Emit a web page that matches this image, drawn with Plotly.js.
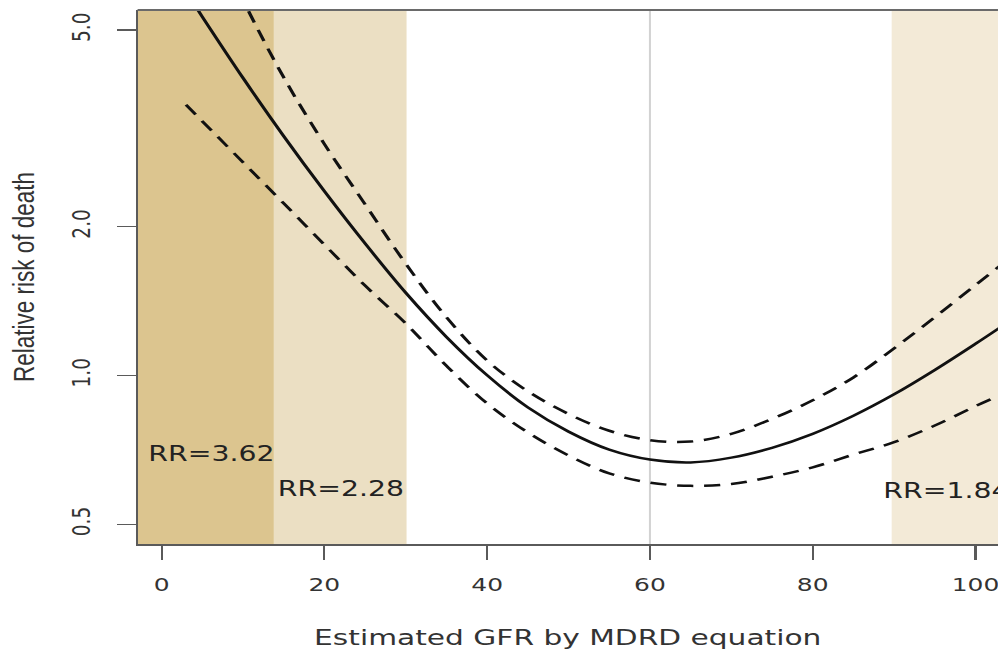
<!DOCTYPE html>
<html>
<head>
<meta charset="utf-8">
<script src="https://cdn.plot.ly/plotly-3.0.1.min.js"></script>
<style>
html, body { margin: 0; padding: 0; background: #ffffff; overflow: hidden; }
#wrap { width: 998px; height: 652px; overflow: hidden; position: relative; }
#chart { width: 770px; height: 652px; transform: scaleX(1.3486); transform-origin: 0 0; }
</style>
</head>
<body>
<div id="wrap"><div id="chart"></div></div>
<script>
// ---- data ----
const gfr     = [3, 5, 10, 15, 20, 25, 30, 35, 40, 45, 50, 55, 60, 65, 70, 75, 80, 85, 90, 95, 100, 103];
const rrFit   = [5.98, 5.32, 4.00, 3.05, 2.36, 1.85, 1.47, 1.197, 1.001, 0.862, 0.770, 0.708, 0.676, 0.667, 0.682, 0.714, 0.762, 0.829, 0.916, 1.026, 1.159, 1.250];
const rrUpper = [10.1, 8.55, 5.75, 4.01, 2.94, 2.22, 1.683, 1.312, 1.072, 0.929, 0.836, 0.773, 0.740, 0.735, 0.762, 0.817, 0.891, 0.991, 1.135, 1.312, 1.524, 1.667];
const rrLower = [3.53, 3.27, 2.70, 2.23, 1.84, 1.52, 1.274, 1.046, 0.878, 0.767, 0.689, 0.634, 0.607, 0.598, 0.603, 0.624, 0.652, 0.692, 0.733, 0.792, 0.867, 0.912];

const bandFrom   = [-10, 13.8, 89.7];
const bandTo     = [13.8, 30.1, 130];
const bandLabels = ['RR=3.62', 'RR=2.28', 'RR=1.84'];
const refGfr     = 60;

const xTickVals = [0, 20, 40, 60, 80, 100];
const yTickVals = [0.5, 1.0, 2.0, 5.0];
const yTickText = ['0.5', '1.0', '2.0', '5.0'];

// ---- styling ----
const bandColors = ['#dcc58f', '#ebdfc3', '#f3ead7'];
const labelPos = [
  {x: -2.0, y: 0.694},
  {x: 14.0, y: 0.589},
  {x: 88.4, y: 0.585}
];
const axisColor = '#5a5a5a';
const textColor = '#333333';
const dashStyle = {color: '#111', width: 2.5, dash: '12px,8px', shape: 'spline', smoothing: 1};

const traces = [
  {x: gfr, y: rrUpper, mode: 'lines', line: dashStyle, hoverinfo: 'skip'},
  {x: gfr, y: rrLower, mode: 'lines', line: dashStyle, hoverinfo: 'skip'},
  {x: gfr, y: rrFit,   mode: 'lines', line: {color: '#111', width: 2.5, shape: 'spline', smoothing: 1}, hoverinfo: 'skip'}
];

const shapes = bandFrom.map((b, i) => ({
  type: 'rect', xref: 'x', yref: 'paper', x0: b, x1: bandTo[i], y0: 0, y1: 1,
  fillcolor: bandColors[i], line: {width: 0}, layer: 'below'
}));
shapes.push({type: 'line', xref: 'x', yref: 'paper', x0: refGfr, x1: refGfr, y0: 0, y1: 1,
  line: {color: '#d2d2d2', width: 1.5}, layer: 'below'});
shapes.push({type: 'line', xref: 'paper', yref: 'paper', x0: 0, x1: 1, y0: 1, y1: 1,
  line: {color: '#6a6a6a', width: 2}, layer: 'above'});

const annotations = bandLabels.map((t, i) => ({
  text: t, x: labelPos[i].x, y: Math.log10(labelPos[i].y), xref: 'x', yref: 'y',
  xanchor: 'left', yanchor: 'middle', showarrow: false,
  font: {family: '"DejaVu Sans", Verdana, sans-serif', size: 21, color: '#222222'}
}));

const layout = {
  width: 770, height: 652,
  margin: {l: 101.5, r: 30, t: 10, b: 108, pad: 0},
  paper_bgcolor: '#ffffff', plot_bgcolor: '#ffffff',
  showlegend: false,
  xaxis: {
    range: [-2.95, 102.76], tickvals: xTickVals, ticktext: xTickVals.map(String),
    ticks: 'outside', ticklen: 14, tickwidth: 1.5, tickcolor: axisColor,
    showline: true, linecolor: axisColor, linewidth: 1.5,
    showgrid: false, zeroline: false, automargin: false,
    ticklabelstandoff: 9, ticklabeloverflow: 'allow',
    tickfont: {family: '"DejaVu Sans", Verdana, sans-serif', size: 18.5, color: textColor},
    title: {text: 'Estimated GFR by MDRD equation', standoff: 36,
      font: {family: '"DejaVu Sans", Verdana, sans-serif', size: 22, color: textColor}}
  },
  yaxis: {
    type: 'log', range: [-0.3409, 0.7394], tickvals: yTickVals, ticktext: yTickText,
    tickangle: -90,
    ticks: 'outside', ticklen: 14, tickwidth: 1.5, tickcolor: axisColor,
    showline: true, linecolor: axisColor, linewidth: 1.5,
    showgrid: false, zeroline: false, automargin: false,
    ticklabelstandoff: 12,
    tickfont: {family: '"DejaVu Sans", Verdana, sans-serif', size: 18.5, color: textColor},
    title: {text: 'Relative risk of death', standoff: 18,
      font: {family: '"Liberation Sans", Arial, sans-serif', size: 22.5, color: textColor}}
  },
  shapes: shapes,
  annotations: annotations
};

Plotly.newPlot('chart', traces, layout, {displayModeBar: false, staticPlot: true});
</script>
</body>
</html>
